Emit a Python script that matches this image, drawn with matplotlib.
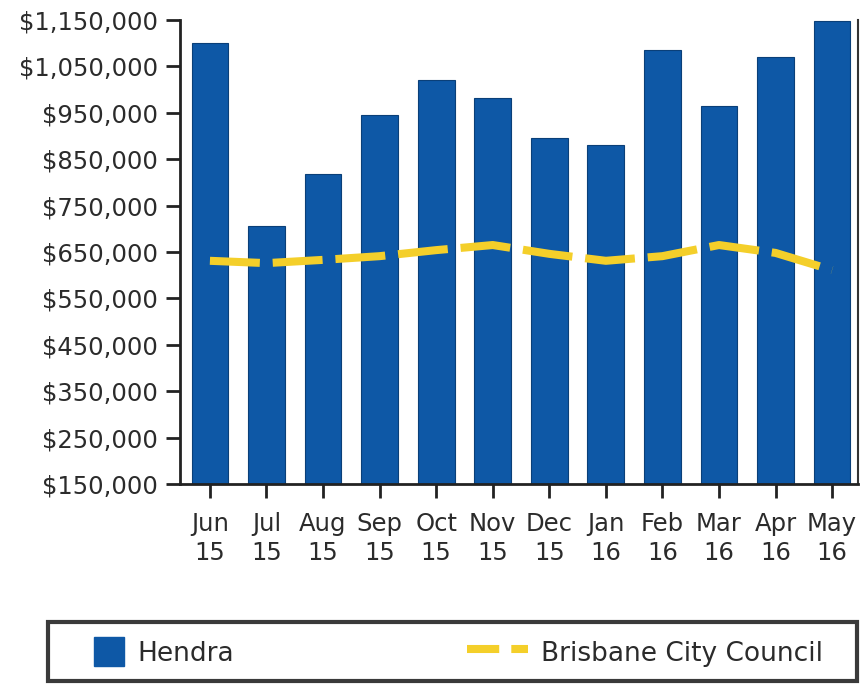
import numpy as np
import matplotlib
matplotlib.use("Agg")
import matplotlib.pyplot as plt
from matplotlib.patches import Patch, Rectangle
from matplotlib.lines import Line2D
from matplotlib.legend_handler import HandlerPatch

# Дані з графіка
months = ["Jun\n15", "Jul\n15", "Aug\n15", "Sep\n15", "Oct\n15", "Nov\n15",
          "Dec\n15", "Jan\n16", "Feb\n16", "Mar\n16", "Apr\n16", "May\n16"]
hendra = [1100000, 705000, 818000, 945000, 1020000, 982000,
          895000, 880000, 1085000, 965000, 1070000, 1148000]
brisbane = [631000, 626000, 633000, 641000, 654000, 665000,
            646000, 631000, 641000, 665000, 648000, 611000]
yticks = np.arange(150000, 1150001, 100000)

bar_color = "#0e58a6"
line_color = "#f4cf2a"
text_color = "#2b2b2b"

plt.rcParams["font.family"] = ["DejaVu Sans"]

fig = plt.figure(figsize=(8.61, 6.84), dpi=100)
ax = fig.add_axes([0.209, 0.2924, 0.787, 0.6784])

x = np.arange(len(months))
ax.bar(x, hendra, width=0.65, color=bar_color, edgecolor="#0a3f78",
       linewidth=0.8, zorder=2)
ax.plot(x, brisbane, color=line_color, linewidth=5.8,
        dashes=(6.2, 1.6), solid_capstyle="butt", zorder=3)

ax.set_ylim(150000, 1150000)
ax.set_xlim(-0.53, 11.45)
ax.set_yticks(yticks)
ax.set_yticklabels(["${:,}".format(v) for v in yticks])
ax.set_xticks(x)
ax.set_xticklabels(months, linespacing=1.3)

ax.tick_params(axis="both", direction="out", length=10, width=2,
               color="#222222", labelcolor=text_color, labelsize=17.5)
ax.tick_params(axis="y", pad=6)
ax.tick_params(axis="x", pad=10)

ax.spines["top"].set_visible(False)
for side in ["left", "bottom"]:
    ax.spines[side].set_linewidth(2)
    ax.spines[side].set_color("#222222")
ax.spines["right"].set_linewidth(1.5)
ax.spines["right"].set_color("#333333")

# Рамка легенди
fig.patches.append(Rectangle((48 / 861, 3 / 684), 809 / 861, 59 / 684,
                             transform=fig.transFigure, fill=False,
                             edgecolor="#3a3a3a", linewidth=3))


def square_patch(legend, orig_handle, xdescent, ydescent, width, height, fontsize):
    # квадрат у правій частині місця під маркер
    return Rectangle((width - height - xdescent, -ydescent), height, height)


handles = [Patch(facecolor=bar_color, edgecolor=bar_color),
           Line2D([0], [0], color=line_color, linewidth=5.8, dashes=(4, 1.5))]
leg = fig.legend(handles, ["Hendra", "Brisbane City Council"],
                 loc="center", bbox_to_anchor=(63 / 861, 0.0, 760 / 861, 0.094),
                 mode="expand", ncol=2, fontsize=19, frameon=False,
                 handlelength=2.3, handleheight=1.33, handletextpad=0.5,
                 borderaxespad=0, borderpad=0,
                 handler_map={Patch: HandlerPatch(patch_func=square_patch)})
for t in leg.get_texts():
    t.set_color(text_color)

fig.savefig("out.png", dpi=100)
